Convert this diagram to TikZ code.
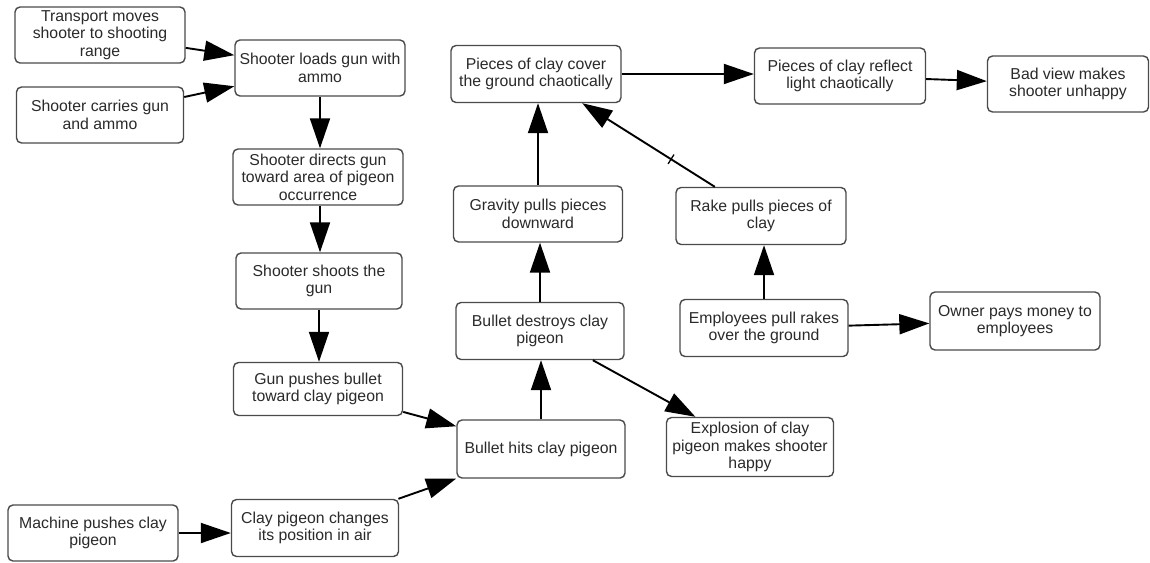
\documentclass[tikz,border=0pt]{standalone}
\usepackage{fontspec}
\setmainfont{Liberation Sans}
\usetikzlibrary{arrows.meta}
\definecolor{boxline}{HTML}{4A4A4A}
\definecolor{txt}{HTML}{2A2A2A}
\begin{document}
\begin{tikzpicture}[x=1pt,y=-1pt,
  stepbox/.style={draw=boxline, line width=1.4pt, rounded corners=5pt, fill=white,
    minimum width=170pt, minimum height=56pt, align=center, text=txt,
    font=\fontsize{15.8}{17.5}\selectfont, inner sep=1pt},
  arr/.style={line width=1.9pt, -{Triangle[length=30pt,width=20pt]}}]
\useasboundingbox (0,0) rectangle (1150,562);
\node[stepbox] (t1) at (100,35) {Transport moves\\shooter to shooting\\range};
\node[stepbox, minimum width=167pt] (t2) at (100,115) {Shooter carries gun\\and ammo};
\node[stepbox] (load) at (320,68) {Shooter loads gun with\\ammo};
\node[stepbox] (dir) at (318,177) {Shooter directs gun\\toward area of pigeon\\occurrence};
\node[stepbox, minimum width=166pt] (shoot) at (319,281) {Shooter shoots the\\gun};
\node[stepbox, minimum width=169pt, minimum height=53pt] (gun) at (318,389) {Gun pushes bullet\\toward clay pigeon};
\node[stepbox, minimum width=168pt, minimum height=58pt] (hit) at (541,449) {Bullet hits clay pigeon};
\node[stepbox] (mach) at (93,533) {Machine pushes clay\\pigeon};
\node[stepbox, minimum width=167pt, minimum height=57pt] (chg) at (315,528) {Clay pigeon changes\\its position in air};
\node[stepbox, minimum width=168pt, minimum height=57pt] (des) at (540,331) {Bullet destroys clay\\pigeon};
\node[stepbox, minimum width=169pt] (grav) at (538,214) {Gravity pulls pieces\\downward};
\node[stepbox, minimum width=170pt, minimum height=57pt] (cov) at (536,74) {Pieces of clay cover\\the ground chaotically};
\node[stepbox, minimum width=171pt] (refl) at (840,76) {Pieces of clay reflect\\light chaotically};
\node[stepbox, minimum width=161pt] (bad) at (1068,84) {Bad view makes\\shooter unhappy};
\node[stepbox, minimum width=170pt, minimum height=57pt] (rake) at (761,216) {Rake pulls pieces of\\clay};
\node[stepbox, minimum width=168pt, minimum height=57pt] (emp) at (764,328) {Employees pull rakes\\over the ground};
\node[stepbox, minimum width=170pt, minimum height=58pt] (own) at (1015,321) {Owner pays money to\\employees};
\node[stepbox, minimum width=167pt, minimum height=59pt] (exp) at (750,447) {Explosion of clay\\pigeon makes shooter\\happy};
\draw[arr] (t1) -- (load);
\draw[arr] (t2) -- (load);
\draw[arr] (load) -- (load |- dir.north);
\draw[arr] (dir.south -| load) -- (load |- shoot.north);
\draw[arr] (shoot) -- (shoot |- gun.north);
\draw[arr] (gun) -- (hit);
\draw[arr] (mach) -- (mach -| chg.west);
\draw[arr] (chg) -- (hit);
\draw[arr] (hit) -- (hit |- des.south);
\draw[arr] (des) -- (des |- grav.south);
\draw[arr] (grav) -- (grav |- cov.south);
\draw[arr] (des) -- (exp);
\draw[arr] (rake) -- node[pos=0.33, sloped, inner sep=0, fill=none]{\rule{1.3pt}{11pt}} (cov);
\draw[arr] (emp) -- (emp |- rake.south);
\draw[arr] (emp) -- (own);
\draw[arr] (cov) -- (cov -| refl.west);
\draw[arr] (refl) -- (bad);
\end{tikzpicture}
\end{document}
